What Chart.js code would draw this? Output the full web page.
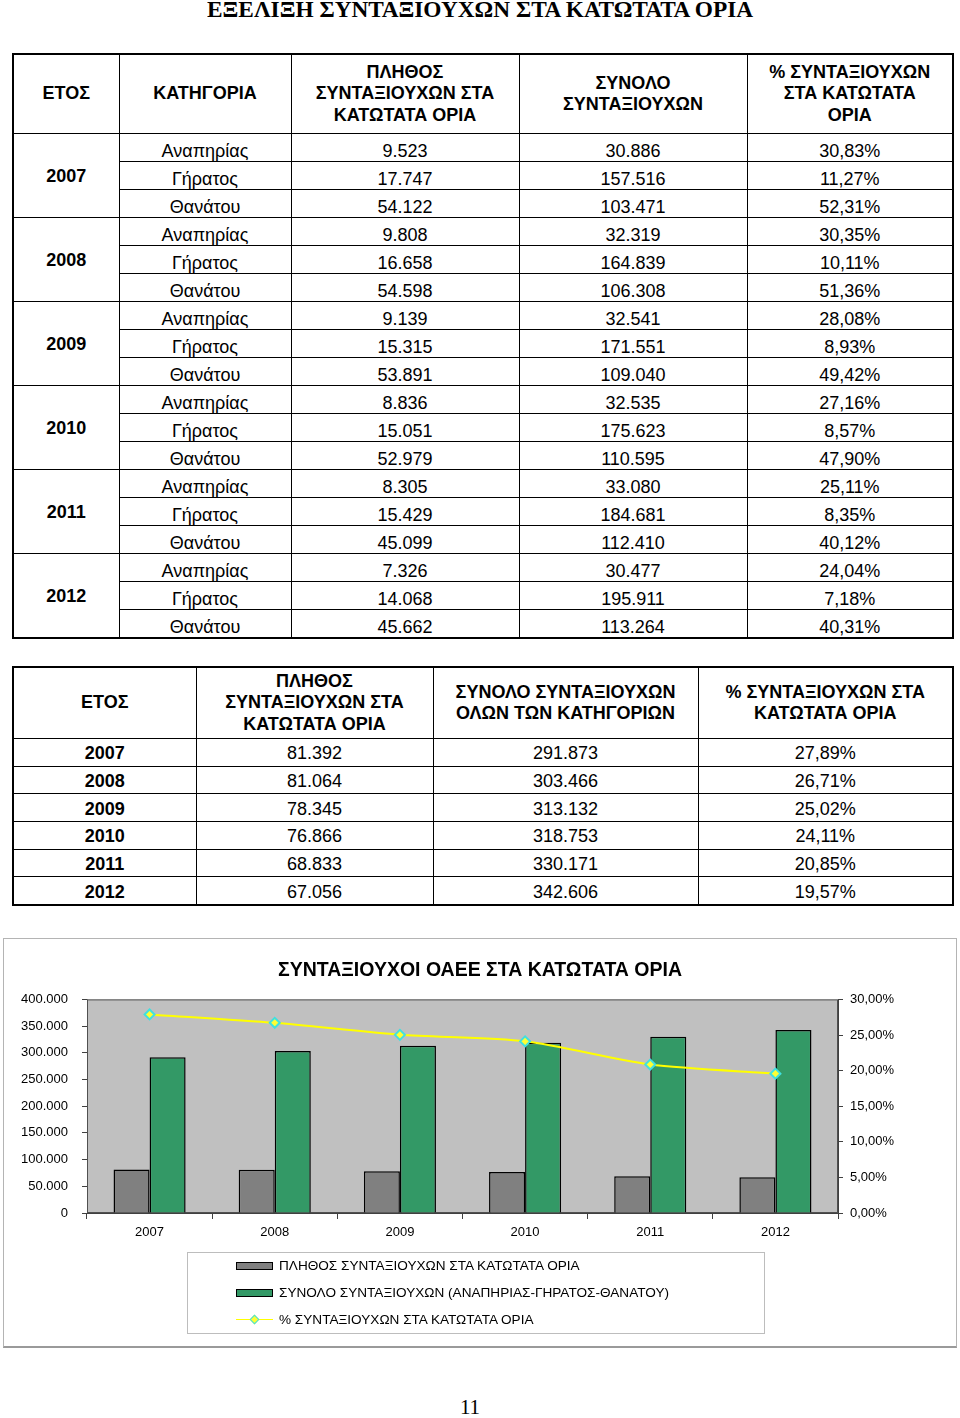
<!DOCTYPE html>
<html lang="el">
<head>
<meta charset="UTF-8">
<title>Εξέλιξη συνταξιούχων στα κατώτατα όρια</title>
<script src="https://cdn.jsdelivr.net/npm/chart.js@4"></script>
<style>
    body {
        margin: 0;
        background: #ffffff;
        color: #000000;
        font-family: Arial, 'Liberation Sans', sans-serif;
    }
    .page {
        position: relative;
        width: 960px;
        height: 1418px;
        overflow: hidden;
    }
    h1 {
        position: absolute;
        top: -6px;
        left: 0;
        width: 960px;
        margin: 0;
        text-align: center;
        font-family: 'Liberation Serif', 'Times New Roman', serif;
        font-weight: bold;
        font-size: 24px;
        line-height: 30px;
    }
    h1 span { display: inline-block; transform-origin: center; }
    table {
        position: absolute;
        left: 12px;
        width: 940px;
        border-collapse: collapse;
        table-layout: fixed;
        font-size: 18px;
        border: 2px solid #000;
    }
    td, th {
        border: 1px solid #000;
        text-align: center;
        vertical-align: middle;
        padding: 0;
        line-height: 21.5px;
    }
    th { font-weight: bold; }
    td.year { font-weight: bold; }
    #t1 { top: 53px; }
    #t2 { top: 666px; }
    #t1 tr.head th { height: 78px; }
    #t1 tr.row td { height: 21px; padding-top: 6px; line-height: 20px; }
    #t1 tr.row td.year { padding-top: 0; }
    #t2 tr.head th { height: 70px; }
    #t2 tr.row td { height: 24.67px; padding-top: 2px; line-height: 20px; }
    .frame {
        position: absolute;
        left: 3px;
        top: 938px;
        width: 954px;
        height: 410px;
        box-sizing: border-box;
        border: 1px solid #b4b4b4;
        border-bottom: 2px solid #9a9a9a;
    }
    #chart {
        position: absolute;
        left: 3px;
        top: 938px;
    }
    .legend {
        position: absolute;
        left: 187px;
        top: 1252px;
        width: 578px;
        height: 82px;
        box-sizing: border-box;
        border: 1px solid #bdbdbd;
        font-size: 13.6px;
    }
    .legend div {
        position: absolute;
        left: 48px;
        height: 16px;
        line-height: 16px;
        white-space: nowrap;
    }
    .legend .sw {
        display: inline-block;
        position: relative;
        width: 37px;
        height: 16px;
        vertical-align: top;
        margin-right: 6px;
    }
    .legend .box {
        position: absolute;
        left: 0;
        top: 4px;
        width: 35px;
        height: 6px;
        border: 1px solid #000;
    }
    .legend .ln {
        position: absolute;
        left: 0;
        top: 7px;
        width: 37px;
        height: 1px;
        background: #ffff00;
    }
    .legend .dm {
        position: absolute;
        left: 15px;
        top: 4px;
        width: 5px;
        height: 5px;
        background: #ffff33;
        border: 1px solid #40e0e0;
        transform: rotate(45deg);
    }
    .pageno {
        position: absolute;
        top: 1395px;
        left: 0;
        width: 940px;
        text-align: center;
        font-family: 'Liberation Serif', 'Times New Roman', serif;
        font-size: 21px;
    }
</style>
</head>
<body>
<div class="page">
    <h1><span id="title">ΕΞΕΛΙΞΗ ΣΥΝΤΑΞΙΟΥΧΩΝ ΣΤΑ ΚΑΤΩΤΑΤΑ ΟΡΙΑ</span></h1>

    <table id="t1">
        <colgroup>
            <col style="width:106px"><col style="width:172px"><col style="width:228px"><col style="width:228px"><col style="width:206px">
        </colgroup>
        <tbody id="t1body">
            <tr class="head">
                <th>ΕΤΟΣ</th>
                <th>ΚΑΤΗΓΟΡΙΑ</th>
                <th>ΠΛΗΘΟΣ<br>ΣΥΝΤΑΞΙΟΥΧΩΝ ΣΤΑ<br>ΚΑΤΩΤΑΤΑ ΟΡΙΑ</th>
                <th>ΣΥΝΟΛΟ<br>ΣΥΝΤΑΞΙΟΥΧΩΝ</th>
                <th>% ΣΥΝΤΑΞΙΟΥΧΩΝ<br>ΣΤΑ ΚΑΤΩΤΑΤΑ<br>ΟΡΙΑ</th>
            </tr>
        </tbody>
    </table>

    <table id="t2">
        <colgroup>
            <col style="width:183px"><col style="width:237px"><col style="width:265px"><col style="width:255px">
        </colgroup>
        <tbody id="t2body">
            <tr class="head">
                <th>ΕΤΟΣ</th>
                <th>ΠΛΗΘΟΣ<br>ΣΥΝΤΑΞΙΟΥΧΩΝ ΣΤΑ<br>ΚΑΤΩΤΑΤΑ ΟΡΙΑ</th>
                <th>ΣΥΝΟΛΟ ΣΥΝΤΑΞΙΟΥΧΩΝ<br>ΟΛΩΝ ΤΩΝ ΚΑΤΗΓΟΡΙΩΝ</th>
                <th>% ΣΥΝΤΑΞΙΟΥΧΩΝ ΣΤΑ<br>ΚΑΤΩΤΑΤΑ ΟΡΙΑ</th>
            </tr>
        </tbody>
    </table>

    <div class="frame"></div>
    <canvas id="chart" width="954" height="410"></canvas>

    <div class="legend">
        <div style="top:5px"><span class="sw"><span class="box" style="background:#808080"></span></span>ΠΛΗΘΟΣ ΣΥΝΤΑΞΙΟΥΧΩΝ ΣΤΑ ΚΑΤΩΤΑΤΑ ΟΡΙΑ</div>
        <div style="top:32px"><span class="sw"><span class="box" style="background:#339966"></span></span>ΣΥΝΟΛΟ ΣΥΝΤΑΞΙΟΥΧΩΝ (ΑΝΑΠΗΡΙΑΣ-ΓΗΡΑΤΟΣ-ΘΑΝΑΤΟΥ)</div>
        <div style="top:59px"><span class="sw"><span class="ln"></span><span class="dm"></span></span>% ΣΥΝΤΑΞΙΟΥΧΩΝ ΣΤΑ ΚΑΤΩΤΑΤΑ ΟΡΙΑ</div>
    </div>

    <div class="pageno">11</div>
</div>

<script>
    // data
    const years = ['2007', '2008', '2009', '2010', '2011', '2012'];
    const categories = ['Αναπηρίας', 'Γήρατος', 'Θανάτου'];

    // per year: [Αναπηρίας, Γήρατος, Θανάτου]
    const minByCategory = [
        [9523, 17747, 54122],
        [9808, 16658, 54598],
        [9139, 15315, 53891],
        [8836, 15051, 52979],
        [8305, 15429, 45099],
        [7326, 14068, 45662]
    ];
    const totalByCategory = [
        [30886, 157516, 103471],
        [32319, 164839, 106308],
        [32541, 171551, 109040],
        [32535, 175623, 110595],
        [33080, 184681, 112410],
        [30477, 195911, 113264]
    ];
    const pctByCategory = [
        [30.83, 11.27, 52.31],
        [30.35, 10.11, 51.36],
        [28.08, 8.93, 49.42],
        [27.16, 8.57, 47.90],
        [25.11, 8.35, 40.12],
        [24.04, 7.18, 40.31]
    ];

    const minPensioners = [81392, 81064, 78345, 76866, 68833, 67056];
    const totalPensioners = [291873, 303466, 313132, 318753, 330171, 342606];
    const minPercent = [27.89, 26.71, 25.02, 24.11, 20.85, 19.57];

    const leftTicks = [0, 50000, 100000, 150000, 200000, 250000, 300000, 350000, 400000];
    const rightTicks = [0, 5, 10, 15, 20, 25, 30];

    function fmtInt(n) {
        return String(n).replace(/\B(?=(\d{3})+(?!\d))/g, '.');
    }
    function fmtPct(v) {
        return v.toFixed(2).replace('.', ',') + '%';
    }

    // title squeezed to the width of the original heading
    const title = document.getElementById('title');
    title.style.transform = 'scaleX(' + (546 / title.offsetWidth) + ')';

    // table 1
    const t1 = document.getElementById('t1body');
    years.forEach(function (y, i) {
        categories.forEach(function (c, j) {
            const tr = document.createElement('tr');
            tr.className = 'row';
            let html = '';
            if (j === 0) html += '<td class="year" rowspan="3">' + y + '</td>';
            html += '<td>' + c + '</td>';
            html += '<td>' + fmtInt(minByCategory[i][j]) + '</td>';
            html += '<td>' + fmtInt(totalByCategory[i][j]) + '</td>';
            html += '<td>' + fmtPct(pctByCategory[i][j]) + '</td>';
            tr.innerHTML = html;
            t1.appendChild(tr);
        });
    });

    // table 2
    const t2 = document.getElementById('t2body');
    years.forEach(function (y, i) {
        const tr = document.createElement('tr');
        tr.className = 'row';
        tr.innerHTML = '<td class="year">' + y + '</td>' +
            '<td>' + fmtInt(minPensioners[i]) + '</td>' +
            '<td>' + fmtInt(totalPensioners[i]) + '</td>' +
            '<td>' + fmtPct(minPercent[i]) + '</td>';
        t2.appendChild(tr);
    });

    // chart
    Chart.defaults.font.family = "Arial, 'Liberation Sans', sans-serif";
    Chart.defaults.color = '#000000';

    const plotArea = {
        id: 'plotArea',
        beforeDatasetsDraw(chart) {
            const a = chart.chartArea;
            const ctx = chart.ctx;
            ctx.save();
            ctx.fillStyle = '#c0c0c0';
            ctx.fillRect(a.left, a.top, a.right - a.left, a.bottom - a.top);
            ctx.strokeStyle = '#505050';
            ctx.lineWidth = 1;
            ctx.strokeRect(a.left + 0.5, a.top + 0.5, a.right - a.left - 1, a.bottom - a.top - 1);
            ctx.restore();
        }
    };

    new Chart(document.getElementById('chart'), {
        type: 'bar',
        data: {
            labels: years,
            datasets: [
                {
                    type: 'line',
                    label: '% ΣΥΝΤΑΞΙΟΥΧΩΝ ΣΤΑ ΚΑΤΩΤΑΤΑ ΟΡΙΑ',
                    data: minPercent,
                    yAxisID: 'y1',
                    order: 0,
                    borderColor: '#ffff00',
                    borderWidth: 2,
                    tension: 0.25,
                    pointStyle: 'rectRot',
                    pointRadius: 5,
                    pointBackgroundColor: '#ffff33',
                    pointBorderColor: '#40e0e0',
                    pointBorderWidth: 2
                },
                {
                    label: 'ΠΛΗΘΟΣ ΣΥΝΤΑΞΙΟΥΧΩΝ ΣΤΑ ΚΑΤΩΤΑΤΑ ΟΡΙΑ',
                    data: minPensioners,
                    yAxisID: 'y',
                    order: 1,
                    backgroundColor: '#808080',
                    borderColor: '#000000',
                    borderWidth: 1.5,
                    barPercentage: 1,
                    categoryPercentage: 0.576
                },
                {
                    label: 'ΣΥΝΟΛΟ ΣΥΝΤΑΞΙΟΥΧΩΝ (ΑΝΑΠΗΡΙΑΣ-ΓΗΡΑΤΟΣ-ΘΑΝΑΤΟΥ)',
                    data: totalPensioners,
                    yAxisID: 'y',
                    order: 2,
                    backgroundColor: '#339966',
                    borderColor: '#000000',
                    borderWidth: 1.5,
                    barPercentage: 1,
                    categoryPercentage: 0.576
                }
            ]
        },
        options: {
            responsive: false,
            animation: false,
            layout: { padding: { left: 0, right: 0, top: 0, bottom: 95 } },
            plugins: {
                legend: { display: false },
                tooltip: { enabled: false },
                title: {
                    display: true,
                    text: 'ΣΥΝΤΑΞΙΟΥΧΟΙ ΟΑΕΕ ΣΤΑ ΚΑΤΩΤΑΤΑ ΟΡΙΑ',
                    color: '#000000',
                    font: { size: 19.5, weight: 'bold' },
                    padding: { top: 21, bottom: 17 }
                }
            },
            scales: {
                x: {
                    grid: { display: true, offset: true, drawOnChartArea: false, tickLength: 6, color: '#404040' },
                    border: { color: '#404040' },
                    ticks: { font: { size: 13 }, padding: 6, color: '#000000' },
                    afterFit(s) { s.height = 40; }
                },
                y: {
                    position: 'left',
                    min: 0,
                    max: 400000,
                    afterBuildTicks(s) { s.ticks = leftTicks.map(v => ({ value: v })); },
                    ticks: { font: { size: 13 }, padding: 14, color: '#000000', callback: v => fmtInt(v) },
                    grid: { drawOnChartArea: false, tickLength: 5, color: '#404040' },
                    border: { color: '#404040' },
                    afterFit(s) { s.width = 84; }
                },
                y1: {
                    position: 'right',
                    min: 0,
                    max: 30,
                    afterBuildTicks(s) { s.ticks = rightTicks.map(v => ({ value: v })); },
                    ticks: { font: { size: 13 }, padding: 7, color: '#000000', callback: v => fmtPct(v) },
                    grid: { drawOnChartArea: false, tickLength: 5, color: '#404040' },
                    border: { color: '#404040' },
                    afterFit(s) { s.width = 119; }
                }
            }
        },
        plugins: [plotArea]
    });
</script>
</body>
</html>
